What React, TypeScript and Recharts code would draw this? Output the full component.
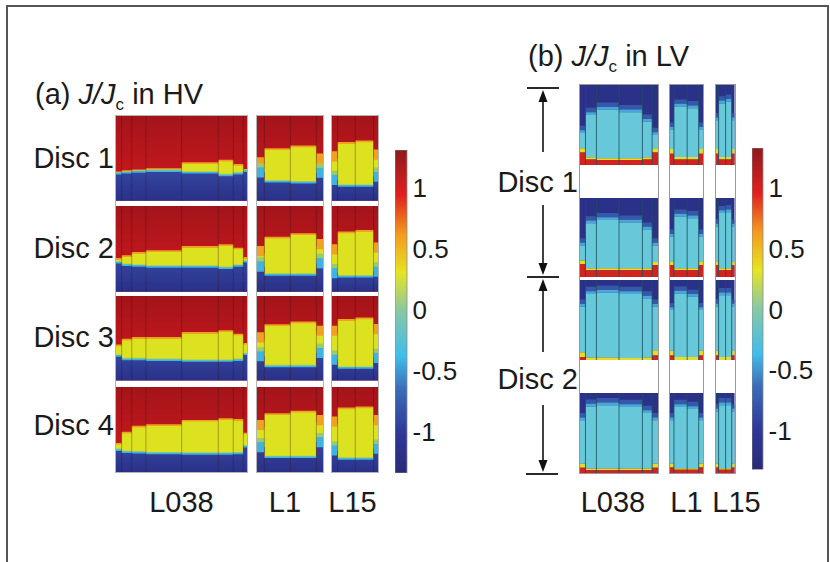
import React from 'react';
import { ComposedChart, Area, XAxis, YAxis, ReferenceLine, BarChart, Bar } from 'recharts';

const FONT = '"Liberation Sans", Arial, Helvetica, sans-serif';

// ================= Panel (a): J/Jc in HV =================
const hvCoilNames = ['L038', 'L1', 'L15'];
const hvDiscNames = ['Disc 1', 'Disc 2', 'Disc 3', 'Disc 4'];

// column edges, fraction of coil width
const hvL038Edges = [0, 0.043, 0.12, 0.228, 0.5, 0.779, 0.893, 0.97, 1];
const hvL1Edges = [0, 0.11, 0.5, 0.89, 1];
const hvL15Edges = [0, 0.12, 0.5, 0.893, 1];

// top of the negative (blue) zone, per disc, per column (fraction of disc height)
const hvL038BlueTop = [
  [0.32, 0.33, 0.34, 0.35, 0.33, 0.3, 0.32, 0.35],
  [0.34, 0.31, 0.3, 0.29, 0.29, 0.275, 0.3, 0.35],
  [0.29, 0.25, 0.25, 0.24, 0.23, 0.23, 0.24, 0.31],
  [0.26, 0.235, 0.23, 0.22, 0.215, 0.215, 0.22, 0.3],
];
// top of the partially penetrated (yellow) zone
const hvL038YellowTop = [
  [0.33, 0.345, 0.355, 0.37, 0.44, 0.47, 0.42, 0.36],
  [0.38, 0.41, 0.45, 0.47, 0.52, 0.54, 0.5, 0.39],
  [0.41, 0.48, 0.5, 0.5, 0.56, 0.58, 0.54, 0.43],
  [0.33, 0.46, 0.53, 0.55, 0.6, 0.62, 0.61, 0.45],
];
const hvL1BlueTop = [
  [0.335, 0.224, 0.213, 0.33],
  [0.294, 0.196, 0.196, 0.334],
  [0.286, 0.167, 0.167, 0.326],
  [0.294, 0.176, 0.176, 0.353],
];
const hvL1YellowTop = [
  [0.43, 0.606, 0.638, 0.473],
  [0.45, 0.628, 0.667, 0.53],
  [0.485, 0.651, 0.683, 0.564],
  [0.53, 0.679, 0.706, 0.588],
];
const hvL15BlueTop = [
  [0.245, 0.174, 0.174, 0.283],
  [0.216, 0.176, 0.176, 0.235],
  [0.246, 0.148, 0.148, 0.267],
  [0.255, 0.157, 0.157, 0.275],
];
const hvL15YellowTop = [
  [0.5, 0.678, 0.697, 0.52],
  [0.47, 0.687, 0.706, 0.49],
  [0.564, 0.714, 0.73, 0.583],
  [0.57, 0.746, 0.758, 0.588],
];
// width of the smeared transition per column
const hvL038Blur = [0.02, 0.02, 0.02, 0.02, 0.02, 0.02, 0.02, 0.02];
const hvL1Blur = [0.12, 0.02, 0.02, 0.12];
const hvL15Blur = [0.12, 0.02, 0.02, 0.12];

// ================= Panel (b): J/Jc in LV =================
const lvCoilNames = ['L038', 'L1', 'L15'];
const lvDiscNames = ['Disc 1', 'Disc 2'];

const lvL038Edges = [0, 0.07, 0.21, 0.5, 0.8, 0.925, 1];
const lvL1Edges = [0, 0.12, 0.52, 0.87, 1];
const lvL15Edges = [0, 0.14, 0.52, 0.85, 1];

// top of the light-blue body, per block, per column
const lvL038CyanTop = [
  [0.4, 0.625, 0.69, 0.66, 0.54, 0.375],
  [0.4, 0.68, 0.72, 0.69, 0.6, 0.4],
  [0.667, 0.825, 0.84, 0.825, 0.77, 0.667],
  [0.66, 0.83, 0.846, 0.825, 0.75, 0.66],
];
const lvL038YellowTop = [
  [0.21, 0.096, 0.083, 0.083, 0.096, 0.21],
  [0.21, 0.11, 0.11, 0.11, 0.11, 0.19],
  [0.1, 0.035, 0.035, 0.03, 0.035, 0.125],
  [0.117, 0.055, 0.055, 0.055, 0.055, 0.117],
];
const lvL038RedTop = [
  [0.155, 0.07, 0.0625, 0.0625, 0.07, 0.155],
  [0.16, 0.085, 0.085, 0.085, 0.085, 0.15],
  [0.04, 0, 0, 0, 0, 0.06],
  [0.067, 0.033, 0.033, 0.033, 0.033, 0.067],
];
const lvL1CyanTop = [
  [0.44, 0.73, 0.71, 0.44],
  [0.51, 0.765, 0.745, 0.51],
  [0.625, 0.83, 0.79, 0.625],
  [0.66, 0.825, 0.8, 0.66],
];
const lvL1YellowTop = [
  [0.2, 0.1, 0.1, 0.2],
  [0.2, 0.11, 0.11, 0.2],
  [0.12, 0.04, 0.04, 0.12],
  [0.12, 0.06, 0.06, 0.12],
];
const lvL1RedTop = [
  [0.14, 0.07, 0.07, 0.14],
  [0.15, 0.085, 0.085, 0.15],
  [0.06, 0, 0, 0.06],
  [0.07, 0.04, 0.04, 0.07],
];
const lvL15CyanTop = [
  [0.56, 0.77, 0.79, 0.56],
  [0.64, 0.81, 0.82, 0.64],
  [0.67, 0.81, 0.81, 0.67],
  [0.77, 0.846, 0.846, 0.77],
];
const lvL15YellowTop = [
  [0.2, 0.1, 0.1, 0.2],
  [0.2, 0.11, 0.11, 0.2],
  [0.12, 0.04, 0.04, 0.12],
  [0.12, 0.06, 0.06, 0.12],
];
const lvL15RedTop = [
  [0.14, 0.07, 0.07, 0.14],
  [0.15, 0.085, 0.085, 0.15],
  [0.06, 0, 0, 0.06],
  [0.07, 0.04, 0.04, 0.07],
];

// ================= Colour bar =================
const cbTicks = [-1, -0.5, 0, 0.5, 1];
const cbDomainA = [-1.34, 1.31];
const cbDomainB = [-1.32, 1.33];

// ---------- layout (pixels) ----------
const HV_COLS = [
  { left: 116, width: 131.3 },
  { left: 256.8, width: 66.7 },
  { left: 331.8, width: 46.5 },
];
const HV_ROWS = [
  { top: 116, height: 84.7 },
  { top: 206, height: 85.7 },
  { top: 296.3, height: 84.4 },
  { top: 386.5, height: 85.2 },
];
const LV_COLS = [
  { left: 579.5, width: 78 },
  { left: 669.5, width: 33 },
  { left: 716, width: 18.5 },
];
const LV_ROWS = [
  { top: 85, height: 80 },
  { top: 197.5, height: 79 },
  { top: 280, height: 80.3 },
  { top: 392.7, height: 80 },
];

const JET: [number, string][] = [
  [0, '#2A2A78'],
  [0.12, '#2E3796'],
  [0.26, '#3A6DB8'],
  [0.36, '#3FBDEB'],
  [0.5, '#86C8A6'],
  [0.62, '#E6E421'],
  [0.74, '#F39A1E'],
  [0.86, '#E0201F'],
  [1, '#8E1A1C'],
];

const areaCommon = {
  type: 'stepAfter' as const,
  stroke: 'none',
  fillOpacity: 1,
  isAnimationActive: false,
  dot: false,
  activeDot: false,
};
const zeroMargin = { top: 0, right: 0, bottom: 0, left: 0 };

function hvData(edges: number[], blue: number[], yellow: number[], blur: number[]) {
  return edges.map((x, i) => {
    const c = Math.min(i, blue.length - 1);
    const b = blue[c];
    const y = yellow[c];
    const w = blur[c];
    return {
      x,
      red: [0, 1],
      yellow: [b, y],
      orange: [Math.max(b, y - w * 0.3), y + w * 0.7],
      blue: [0, b],
      green: [b + w * 0.5, b + w * 0.9],
      cyan: [b - w * 0.5, b + w * 0.5],
    };
  });
}

function lvData(edges: number[], cyan: number[], yellow: number[], red: number[]) {
  return edges.map((x, i) => {
    const c = Math.min(i, cyan.length - 1);
    return {
      x,
      navy: [0, 1],
      mid2: [cyan[c] + 0.035, cyan[c] + 0.09],
      mid1: [cyan[c], cyan[c] + 0.035],
      body: [yellow[c], cyan[c]],
      yel: [red[c], yellow[c]],
      red: [0, red[c]],
    };
  });
}

function HVBlock(props: any) {
  const { id, left, top, width, height, edges, blue, yellow, blur } = props;
  const data = hvData(edges, blue, yellow, blur);
  const lines = edges.slice(1, -1);
  return (
    <div style={{ position: 'absolute', left, top, width, height }}>
      <ComposedChart width={width} height={height} data={data} margin={zeroMargin}>
        <defs>
          <linearGradient id={`${id}-r`} x1="0" y1="0" x2="0" y2="1">
            <stop offset="0" stopColor="#A3141A" />
            <stop offset="0.5" stopColor="#BB171C" />
            <stop offset="1" stopColor="#D01B1F" />
          </linearGradient>
          <linearGradient id={`${id}-b`} x1="0" y1="0" x2="0" y2="1">
            <stop offset="0" stopColor="#34469F" />
            <stop offset="1" stopColor="#2A3088" />
          </linearGradient>
        </defs>
        <XAxis type="number" dataKey="x" domain={[0, 1]} hide />
        <YAxis type="number" domain={[0, 1]} hide />
        <Area dataKey="red" fill={`url(#${id}-r)`} {...areaCommon} />
        <Area dataKey="yellow" fill="#DDE220" {...areaCommon} />
        <Area dataKey="orange" fill="#F0A21E" {...areaCommon} />
        <Area dataKey="blue" fill={`url(#${id}-b)`} {...areaCommon} />
        <Area dataKey="green" fill="#9CCB6A" {...areaCommon} />
        <Area dataKey="cyan" fill="#3FB4E2" {...areaCommon} />
        {lines.map((l: number) => (
          <ReferenceLine key={l} x={l} stroke="#3A1010" strokeOpacity={0.35} strokeWidth={1} />
        ))}
      </ComposedChart>
    </div>
  );
}

function LVBlock(props: any) {
  const { left, top, width, height, edges, cyan, yellow, red } = props;
  const data = lvData(edges, cyan, yellow, red);
  const lines = edges.slice(1, -1);
  return (
    <div style={{ position: 'absolute', left, top, width, height }}>
      <ComposedChart width={width} height={height} data={data} margin={zeroMargin}>
        <XAxis type="number" dataKey="x" domain={[0, 1]} hide />
        <YAxis type="number" domain={[0, 1]} hide />
        <Area dataKey="navy" fill="#2B3189" {...areaCommon} />
        <Area dataKey="mid2" fill="#3558A8" {...areaCommon} />
        <Area dataKey="mid1" fill="#4AA6DA" {...areaCommon} />
        <Area dataKey="body" fill="#66C8D8" {...areaCommon} />
        <Area dataKey="yel" fill="#E4DC26" {...areaCommon} />
        <Area dataKey="red" fill="#D3231F" {...areaCommon} />
        {lines.map((l: number) => (
          <ReferenceLine key={l} x={l} stroke="#1B4E5E" strokeOpacity={0.8} strokeWidth={1} />
        ))}
      </ComposedChart>
    </div>
  );
}

function ColorBar(props: any) {
  const { id, left, top, barWidth, height, domain } = props;
  const data = [{ name: 'J/Jc', v: domain }];
  const axisW = 70;
  return (
    <div style={{ position: 'absolute', left, top }}>
      <BarChart width={barWidth + axisW} height={height} data={data} margin={zeroMargin} barCategoryGap={0}>
        <defs>
          <linearGradient id={id} x1="0" y1="1" x2="0" y2="0">
            {JET.map(([o, c]) => (
              <stop key={o} offset={o} stopColor={c} />
            ))}
          </linearGradient>
        </defs>
        <XAxis dataKey="name" hide />
        <YAxis
          orientation="right"
          type="number"
          domain={domain}
          ticks={cbTicks}
          interval={0}
          width={axisW}
          axisLine={false}
          tickLine={false}
          tickSize={0}
          tickMargin={6}
          allowDataOverflow
          tick={{ fill: '#1a1a1a', fontSize: 26, fontFamily: FONT }}
        />
        <Bar dataKey="v" fill={`url(#${id})`} stroke="#8a8a8a" strokeWidth={0.8} isAnimationActive={false} />
      </BarChart>
    </div>
  );
}

const hvSets = [
  { edges: hvL038Edges, blue: hvL038BlueTop, yellow: hvL038YellowTop, blur: hvL038Blur },
  { edges: hvL1Edges, blue: hvL1BlueTop, yellow: hvL1YellowTop, blur: hvL1Blur },
  { edges: hvL15Edges, blue: hvL15BlueTop, yellow: hvL15YellowTop, blur: hvL15Blur },
];
const lvSets = [
  { edges: lvL038Edges, cyan: lvL038CyanTop, yellow: lvL038YellowTop, red: lvL038RedTop },
  { edges: lvL1Edges, cyan: lvL1CyanTop, yellow: lvL1YellowTop, red: lvL1RedTop },
  { edges: lvL15Edges, cyan: lvL15CyanTop, yellow: lvL15YellowTop, red: lvL15RedTop },
];

function ArrowUp({ x, tip, end }: { x: number; tip: number; end: number }) {
  return (
    <g>
      <line x1={x} y1={tip + 8} x2={x} y2={end} stroke="#111" strokeWidth={1.6} />
      <polygon points={`${x},${tip} ${x - 4.5},${tip + 12} ${x + 4.5},${tip + 12}`} fill="#111" />
    </g>
  );
}
function ArrowDown({ x, tip, start }: { x: number; tip: number; start: number }) {
  return (
    <g>
      <line x1={x} y1={start} x2={x} y2={tip - 8} stroke="#111" strokeWidth={1.6} />
      <polygon points={`${x},${tip} ${x - 4.5},${tip - 12} ${x + 4.5},${tip - 12}`} fill="#111" />
    </g>
  );
}

export default function App() {
  const hvLabelY = [168, 258, 347, 435];
  const hvCoilX = [181.5, 285, 352.5];
  const lvCoilX = [613, 686.5, 736.5];
  const lvDiscY = [191.5, 389];
  return (
    <div
      style={{
        position: 'absolute',
        left: 0,
        top: 0,
        width: 830,
        height: 562,
        background: '#fff',
        overflow: 'hidden',
        fontFamily: FONT,
      }}
    >
      {/* frame */}
      <div
        style={{
          position: 'absolute',
          left: 6,
          top: 5,
          width: 819,
          height: 600,
          borderTop: '2px solid #555',
          borderLeft: '2px solid #555',
          borderRight: '2px solid #555',
        }}
      />
      {/* column outlines */}
      {HV_COLS.map((c, i) => (
        <div
          key={`hvo${i}`}
          style={{
            position: 'absolute',
            left: c.left - 1,
            top: HV_ROWS[0].top - 1,
            width: c.width + 2,
            height: HV_ROWS[3].top + HV_ROWS[3].height - HV_ROWS[0].top + 2,
            border: '1px solid #b4b4b4',
            boxSizing: 'border-box',
          }}
        />
      ))}
      {LV_COLS.map((c, i) => (
        <div
          key={`lvo${i}`}
          style={{
            position: 'absolute',
            left: c.left - 1,
            top: LV_ROWS[0].top - 1,
            width: c.width + 2,
            height: LV_ROWS[3].top + LV_ROWS[3].height - LV_ROWS[0].top + 2,
            border: '1px solid #999',
            boxSizing: 'border-box',
          }}
        />
      ))}
      {hvSets.map((s, ci) =>
        HV_ROWS.map((r, di) => (
          <HVBlock
            key={`hv${ci}-${di}`}
            id={`hv${ci}-${di}`}
            left={HV_COLS[ci].left}
            top={r.top}
            width={HV_COLS[ci].width}
            height={r.height}
            edges={s.edges}
            blue={s.blue[di]}
            yellow={s.yellow[di]}
            blur={s.blur}
          />
        ))
      )}
      {lvSets.map((s, ci) =>
        LV_ROWS.map((r, bi) => (
          <LVBlock
            key={`lv${ci}-${bi}`}
            left={LV_COLS[ci].left}
            top={r.top}
            width={LV_COLS[ci].width}
            height={r.height}
            edges={s.edges}
            cyan={s.cyan[bi]}
            yellow={s.yellow[bi]}
            red={s.red[bi]}
          />
        ))
      )}
      <ColorBar id="jetA" left={394.5} top={150} barWidth={11.5} height={323} domain={cbDomainA} />
      <ColorBar id="jetB" left={752} top={148} barWidth={10.5} height={321.5} domain={cbDomainB} />
      <svg
        width={830}
        height={562}
        style={{ position: 'absolute', left: 0, top: 0, pointerEvents: 'none' }}
        fontFamily={FONT}
      >
        <text x={35} y={104} fontSize={29} fill="#1a1a1a">
          (a){' '}
          <tspan fontStyle="italic">J/J</tspan>
          <tspan fontSize={17} dy={6}>c</tspan>
          <tspan dy={-6}> in HV</tspan>
        </text>
        <text x={528} y={66} fontSize={29} fill="#1a1a1a">
          (b){' '}
          <tspan fontStyle="italic">J/J</tspan>
          <tspan fontSize={17} dy={6}>c</tspan>
          <tspan dy={-6}> in LV</tspan>
        </text>
        {hvDiscNames.map((d, i) => (
          <text key={d} x={114} y={hvLabelY[i]} fontSize={29} textAnchor="end" fill="#1a1a1a">
            {d}
          </text>
        ))}
        {hvCoilNames.map((c, i) => (
          <text key={`hc${c}`} x={hvCoilX[i]} y={511.5} fontSize={29} textAnchor="middle" fill="#1a1a1a">
            {c}
          </text>
        ))}
        {lvCoilNames.map((c, i) => (
          <text key={`lc${c}`} x={lvCoilX[i]} y={511.5} fontSize={29} textAnchor="middle" fill="#1a1a1a">
            {c}
          </text>
        ))}
        {lvDiscNames.map((d, i) => (
          <text key={`ld${d}`} x={578} y={lvDiscY[i]} fontSize={29} textAnchor="end" fill="#1a1a1a">
            {d}
          </text>
        ))}
        {/* dimension arrows */}
        <line x1={527} y1={88} x2={559} y2={88} stroke="#111" strokeWidth={1.8} />
        <line x1={527} y1={277} x2={559} y2={277} stroke="#111" strokeWidth={1.8} />
        <line x1={526} y1={474} x2={558} y2={474} stroke="#111" strokeWidth={1.8} />
        <ArrowUp x={543} tip={90} end={152} />
        <ArrowDown x={543} tip={275} start={205} />
        <ArrowUp x={543} tip={279} end={352} />
        <ArrowDown x={543} tip={472} start={405} />
      </svg>
    </div>
  );
}
